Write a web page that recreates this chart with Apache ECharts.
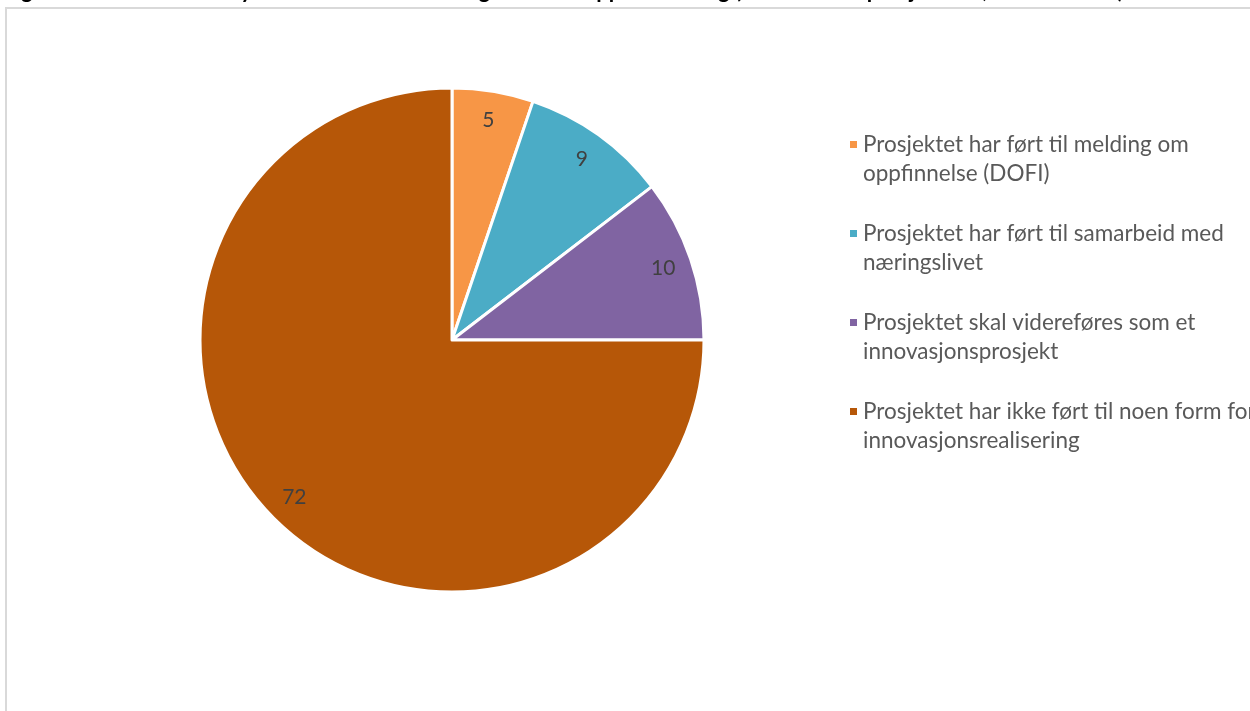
<!DOCTYPE html>
<html>
<head>
<meta charset="utf-8">
<script src="https://cdn.jsdelivr.net/npm/echarts@6/dist/echarts.min.js"></script>
<style>
html,body{margin:0;padding:0;background:#fff;}
#chart{width:1250px;height:711px;}
</style>
</head>
<body>
<div id="chart"></div>
<script>
const titleText = 'Figur 10: Resultater av nye ideer etter finansiering – samlet oppsummering (antall av alle prosjektene, totalt N = 96)';
const categories = [
  'Prosjektet har ført til melding om oppfinnelse (DOFI)',
  'Prosjektet har ført til samarbeid med næringslivet',
  'Prosjektet skal videreføres som et innovasjonsprosjekt',
  'Prosjektet har ikke ført til noen form for innovasjonsrealisering'
];
const legendLines = [
  ['Prosjektet har ført til melding om', 'oppfinnelse (DOFI)'],
  ['Prosjektet har ført til samarbeid med', 'næringslivet'],
  ['Prosjektet skal videreføres som et', 'innovasjonsprosjekt'],
  ['Prosjektet har ikke ført til noen form for', 'innovasjonsrealisering']
];
const values = [5, 9, 10, 72];
const colors = ['#F79646', '#4BACC6', '#8064A2', '#B65708'];

const chart = echarts.init(document.getElementById('chart'), null, {renderer: 'canvas'});
const pieData = categories.map((c, i) => ({name: c, value: values[i], itemStyle: {color: colors[i]}}));
const labelData = categories.map((c, i) => ({name: c, value: values[i]}));

chart.setOption({
  animation: false,
  backgroundColor: '#ffffff',
  title: {
    text: titleText,
    left: 3,
    top: -20,
    padding: 0,
    textStyle: {fontFamily: 'Lato', fontWeight: 'bold', fontSize: 22, color: '#000000'}
  },
  graphic: [{
    type: 'rect',
    shape: {x: 6, y: 8, width: 1400, height: 900},
    style: {fill: 'none', stroke: '#d9d9d9', lineWidth: 2},
    silent: true,
    z: -1
  }],
  legend: {
    orient: 'vertical',
    left: 848,
    top: 101,
    padding: 0,
    icon: 'rect',
    itemWidth: 9,
    itemHeight: 9,
    itemGap: 2,
    selectedMode: false,
    data: categories,
    formatter: function (name) {
      const l = legendLines[categories.indexOf(name)];
      return ' \n' + l[0] + '\n' + l[1];
    },
    textStyle: {fontFamily: 'Lato', fontSize: 22.5, color: '#595959', lineHeight: 29}
  },
  series: [
    {
      type: 'pie',
      center: [452, 340],
      radius: [0, 252],
      startAngle: 90,
      clockwise: true,
      avoidLabelOverlap: false,
      label: {show: false},
      labelLine: {show: false},
      emphasis: {disabled: true},
      itemStyle: {borderColor: '#ffffff', borderWidth: 3},
      data: pieData
    },
    {
      type: 'pie',
      center: [452, 340],
      radius: [190, 250],
      startAngle: 90,
      clockwise: true,
      silent: true,
      avoidLabelOverlap: false,
      legendHoverLink: false,
      itemStyle: {color: 'rgba(0,0,0,0)', borderWidth: 0},
      label: {show: true, position: 'inside', formatter: '{c}', fontFamily: 'Lato', fontSize: 21, color: '#404040'},
      labelLine: {show: false},
      emphasis: {disabled: true},
      data: labelData
    }
  ]
});
</script>
</body>
</html>
